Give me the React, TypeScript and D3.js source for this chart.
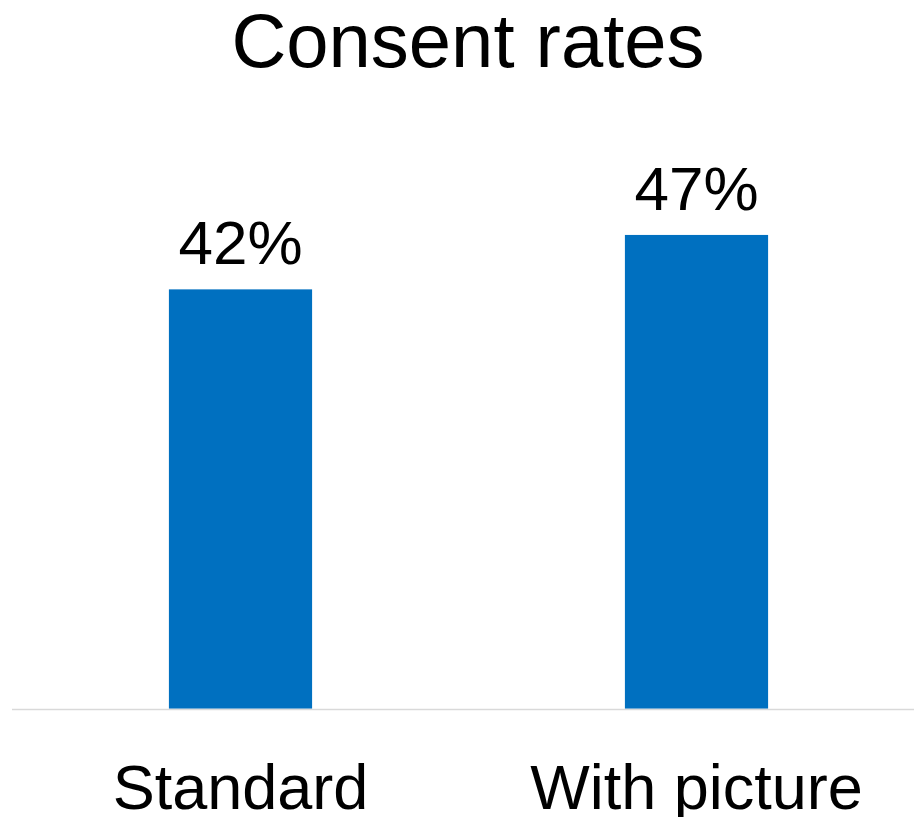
import { useEffect, useRef } from 'react';
import * as d3 from 'd3';

const categories = ['Standard', 'With picture'];
const rates = [0.416, 0.47];
const title = 'Consent rates';

const width = 914;
const height = 817;
const font = 'Arial, "Liberation Sans", sans-serif';

export default function App() {
  const svgRef = useRef<SVGSVGElement>(null);

  useEffect(() => {
    document.body.style.margin = '0';
    if (!svgRef.current) {
      return;
    }

    const svg = d3.select(svgRef.current);
    svg.selectAll('*').remove();

    const x = d3.scaleBand<string>().domain(categories).range([12.5, 924.5]).paddingInner(0.686).paddingOuter(0.343);
    const y = d3.scaleLinear().domain([0, 0.5]).range([708.7, 204.7]);
    const fmt = d3.format('.0%');

    const data = categories.map((c, i) => ({ category: c, rate: rates[i] }));

    svg
      .append('text')
      .attr('x', 468)
      .attr('y', 67)
      .attr('text-anchor', 'middle')
      .style('font-family', font)
      .style('font-size', '76px')
      .attr('fill', '#000')
      .text(title);

    svg
      .selectAll('rect.bar')
      .data(data)
      .enter()
      .append('rect')
      .attr('class', 'bar')
      .attr('x', (d) => x(d.category) ?? 0)
      .attr('width', x.bandwidth())
      .attr('y', (d) => y(d.rate))
      .attr('height', (d) => y(0) - y(d.rate))
      .attr('fill', '#0070c0');

    svg
      .append('line')
      .attr('x1', 12)
      .attr('x2', width)
      .attr('y1', y(0) + 0.8)
      .attr('y2', y(0) + 0.8)
      .attr('stroke', '#d9d9d9')
      .attr('stroke-width', 1.6);

    svg
      .selectAll('text.value')
      .data(data)
      .enter()
      .append('text')
      .attr('class', 'value')
      .attr('x', (d) => (x(d.category) ?? 0) + x.bandwidth() / 2)
      .attr('y', (d) => y(d.rate) - 25)
      .attr('text-anchor', 'middle')
      .style('font-family', font)
      .style('font-size', '62px')
      .attr('fill', '#000')
      .text((d) => fmt(d.rate));

    svg
      .selectAll('text.cat')
      .data(data)
      .enter()
      .append('text')
      .attr('class', 'cat')
      .attr('x', (d) => (x(d.category) ?? 0) + x.bandwidth() / 2)
      .attr('y', 809)
      .attr('text-anchor', 'middle')
      .style('font-family', font)
      .style('font-size', '63px')
      .attr('fill', '#000')
      .text((d) => d.category);
  }, []);

  return (
    <div style={{ position: 'absolute', left: 0, top: 0 }}>
      <svg ref={svgRef} width={width} height={height} style={{ display: 'block', background: '#fff' }} />
    </div>
  );
}
